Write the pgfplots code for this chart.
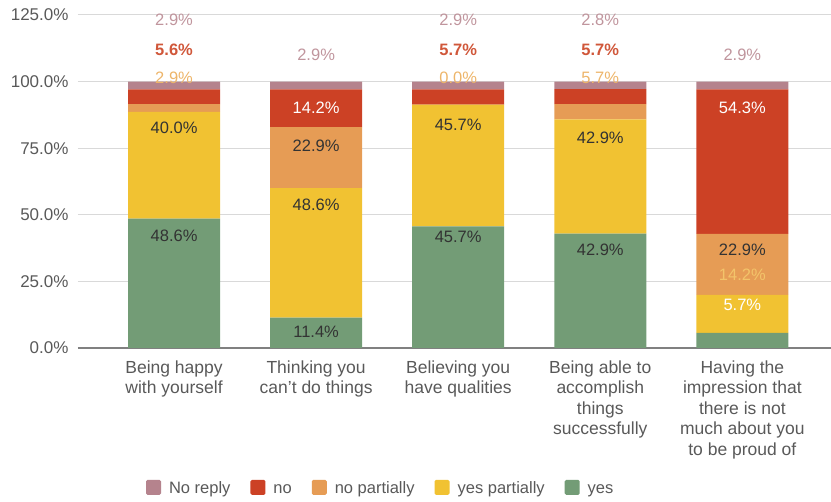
\documentclass[border=0pt]{standalone}
\usepackage{fontspec}
\setmainfont{Liberation Sans}
\usepackage{pgfplots}
\usepackage{pgfplotstable}
\pgfplotsset{compat=1.18}
\usetikzlibrary{calc}

\definecolor{cNR}{HTML}{B5838D}
\definecolor{cNo}{HTML}{CC4125}
\definecolor{cNP}{HTML}{E69C55}
\definecolor{cYP}{HTML}{F1C232}
\definecolor{cYes}{HTML}{739C76}
\definecolor{lNR}{HTML}{C0959D}
\definecolor{lNo}{HTML}{D0573A}
\definecolor{lNP}{HTML}{EDB56A}
\definecolor{lNP2}{HTML}{F3C46A}
\definecolor{txt}{HTML}{333333}
\definecolor{axgray}{HTML}{595959}
\definecolor{gridgray}{HTML}{D9D9D9}

% columns: yes, yes partially, no partially, no, no reply
\pgfplotstableread{
x yes yp np no nr
0 48.6 40.0 2.9 5.6 2.9
1 11.4 48.6 22.9 14.2 2.9
2 45.7 45.7 0.0 5.7 2.9
3 42.9 42.9 5.7 5.7 2.8
4 5.7 14.2 22.9 54.3 2.9
}\data

\pgfplotsset{
  frame/.style={scale only axis, width=753pt, height=333pt,
    xmin=-0.676, xmax=4.624, ymin=0, ymax=125},
  lbl/.style={draw=none, mark=none, nodes near coords,
    point meta=explicit,
    nodes near coords={\pgfmathprintnumber[fixed,fixed zerofill,precision=1]{\pgfplotspointmeta}\%},
    every node near coord/.append style={anchor=center, text=#1}},
}

\begin{document}
\begin{tikzpicture}
\begin{axis}[
    frame,
    ybar stacked, bar width=92pt,
    ytick={0,25,...,125},
    xtick={0,...,4},
    xticklabels={{Being happy\\with yourself},{Thinking you\\can't do things},{Believing you\\have qualities},{Being able to\\accomplish\\things\\successfully},{Having the\\impression that\\there is not\\much about you\\to be proud of}},
    font=\fontsize{16.5}{18}\selectfont,
    xticklabel style={align=center, text=axgray, font=\fontsize{17.5}{20.5}\selectfont, yshift=-9pt},
    yticklabel style={text=axgray, xshift=-6pt, font=\fontsize{17}{18}\selectfont},
    /pgf/number format/assume math mode=true,
    yticklabel={\pgfmathprintnumber[fixed,fixed zerofill,precision=1]{\tick}\%},
    major tick length=0pt,
    ymajorgrids, grid style={color=gridgray, line width=1pt},
    axis x line*=bottom, axis y line*=left,
    x axis line style={color=gray, line width=1.3pt},
    y axis line style={draw=none},
    legend style={at={(0.402,-0.42)}, anchor=center, legend columns=-1, draw=none,
        font=\fontsize{16.5}{18}\selectfont, text=axgray,
        /tikz/every odd column/.append style={column sep=6pt},
        /tikz/every even column/.append style={column sep=18pt}},
    legend image code/.code={\fill[rounded corners=1.5pt] (0pt,-7pt) rectangle (15pt,8pt);},
    reverse legend,
]
\addplot[fill=cYes, draw=none] table[x=x,y=yes]{\data};
\addplot[fill=cYP, draw=none] table[x=x,y=yp]{\data};
\addplot[fill=cNP, draw=none] table[x=x,y=np]{\data};
\addplot[fill=cNo, draw=none] table[x=x,y=no]{\data};
\addplot[fill=cNR, draw=none] table[x=x,y=nr]{\data};
\legend{yes\strut, yes partially\strut, no partially\strut, no\strut, No reply\strut}
\end{axis}

% segment labels, drawn over the bars
\begin{axis}[frame, hide axis, clip=false,
    font=\fontsize{16.5}{18}\selectfont,
    /pgf/number format/assume math mode=true]
\addplot[lbl=lNR] coordinates {(0,123)[2.9] (1,110)[2.9] (2,123)[2.9] (3,123)[2.8] (4,110)[2.9]};
\addplot[lbl=lNo, every node near coord/.append style={font=\fontsize{16.5}{18}\selectfont\bfseries}]
    coordinates {(0,112)[5.6] (2,112)[5.7] (3,112)[5.7]};
\addplot[lbl=lNP] coordinates {(0,101.5)[2.9] (2,101.5)[0.0] (3,101.5)[5.7]};
\addplot[lbl=txt] coordinates {(0,82.6)[40.0] (0,42)[48.6] (1,76)[22.9] (1,53.7)[48.6] (1,6)[11.4]
    (2,83.7)[45.7] (2,41.7)[45.7] (3,79)[42.9] (3,36.8)[42.9] (4,36.8)[22.9]};
\addplot[lbl=white] coordinates {(1,90)[14.2] (4,90)[54.3] (4,16.1)[5.7]};
\addplot[lbl=lNP2] coordinates {(4,27.4)[14.2]};
\end{axis}
\pgfresetboundingbox
\path[use as bounding box] ($(current axis.south west)+(-78pt,-154pt)$) rectangle ($(current axis.north east)+(0pt,15pt)$);
\end{tikzpicture}
\end{document}
